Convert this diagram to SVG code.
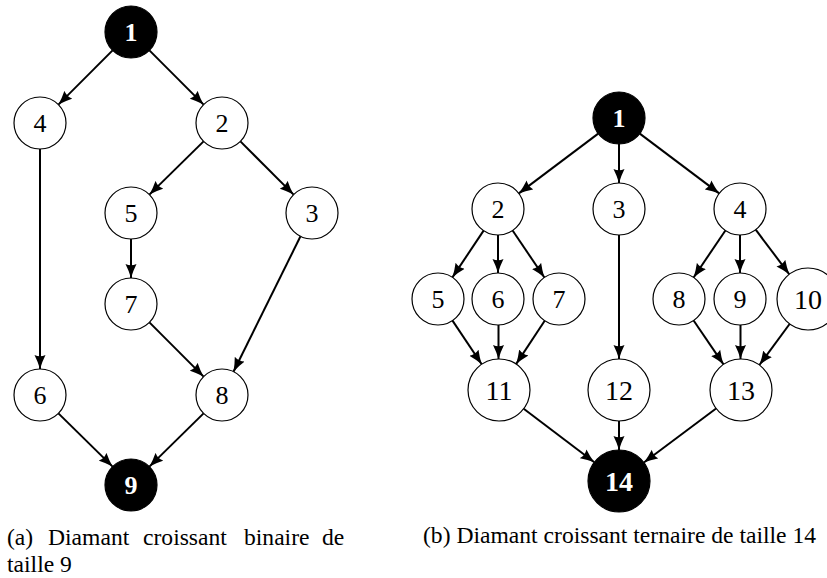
<svg xmlns="http://www.w3.org/2000/svg" width="827" height="578" viewBox="0 0 827 578">
<style>
.n circle{fill:#fff;stroke:#000;stroke-width:1.2}
.n text{font-family:'Liberation Serif','DejaVu Serif',serif;font-size:26px;text-anchor:middle;fill:#000}
.n text.d{font-size:28px}
.b circle{fill:#000;stroke:#000}
.b text{fill:#fff;font-weight:bold}
.e line{stroke:#000;stroke-width:2;marker-end:url(#ah)}
.cap{font-family:'Liberation Serif','DejaVu Serif',serif;font-size:23.6px;fill:#000}
</style>
<defs>
<marker id="ah" markerUnits="userSpaceOnUse" markerWidth="15" markerHeight="12" refX="14" refY="6" orient="auto" viewBox="0 0 15 12">
<path d="M0,0.5 Q7,4 14,6 Q7,8 0,11.5 Q2.5,6 0,0.5 z" fill="#000"/>
</marker>
</defs>
<g id="connectors-a" class="e">
<line x1="112.6" y1="50.4" x2="58.4" y2="104.6"/>
<line x1="149.4" y1="50.4" x2="203.6" y2="104.6"/>
<line x1="203.6" y1="141.4" x2="149.4" y2="194.6"/>
<line x1="240.4" y1="141.4" x2="293.6" y2="194.6"/>
<line x1="131" y1="239" x2="131" y2="278"/>
<line x1="40" y1="149" x2="40" y2="369"/>
<line x1="300.5" y1="236.3" x2="233.5" y2="371.7"/>
<line x1="149.4" y1="322.4" x2="203.6" y2="376.6"/>
<line x1="58.4" y1="413.4" x2="112.6" y2="466.6"/>
<line x1="203.6" y1="413.4" x2="149.4" y2="466.6"/>
</g>
<g id="a1" class="n b"><circle cx="131" cy="32" r="26"/><text x="131" y="41">1</text></g>
<g id="a4" class="n"><circle cx="40" cy="123" r="26"/><text x="40" y="132">4</text></g>
<g id="a2" class="n"><circle cx="222" cy="123" r="26"/><text x="222" y="132">2</text></g>
<g id="a5" class="n"><circle cx="131" cy="213" r="26"/><text x="131" y="222">5</text></g>
<g id="a3" class="n"><circle cx="312" cy="213" r="26"/><text x="312" y="222">3</text></g>
<g id="a7" class="n"><circle cx="131" cy="304" r="26"/><text x="131" y="313">7</text></g>
<g id="a6" class="n"><circle cx="40" cy="395" r="26"/><text x="40" y="404">6</text></g>
<g id="a8" class="n"><circle cx="222" cy="395" r="26"/><text x="222" y="404">8</text></g>
<g id="a9" class="n b"><circle cx="131" cy="485" r="26"/><text x="131" y="494">9</text></g>

<g id="connectors-b" class="e">
<line x1="598.2" y1="133.6" x2="518.8" y2="193.4"/>
<line x1="619" y1="144" x2="619" y2="183"/>
<line x1="639.8" y1="133.6" x2="719.2" y2="193.4"/>
<line x1="483.6" y1="230.6" x2="452.4" y2="277.4"/>
<line x1="498" y1="235" x2="498" y2="273"/>
<line x1="512.6" y1="230.5" x2="544.4" y2="277.5"/>
<line x1="619" y1="235" x2="619" y2="359"/>
<line x1="725.4" y1="230.5" x2="693.6" y2="277.5"/>
<line x1="740" y1="235" x2="740" y2="273"/>
<line x1="755.7" y1="229.7" x2="789.3" y2="274.3"/>
<line x1="452.5" y1="320.6" x2="481.7" y2="364.3"/>
<line x1="498.5" y1="325" x2="498.5" y2="359"/>
<line x1="544.7" y1="320.7" x2="516.1" y2="364.1"/>
<line x1="693.6" y1="320.5" x2="723.5" y2="364.4"/>
<line x1="740.5" y1="325" x2="740.5" y2="359"/>
<line x1="789.6" y1="324" x2="759.4" y2="365"/>
<line x1="523.7" y1="408.7" x2="594.3" y2="462.3"/>
<line x1="619" y1="421" x2="619" y2="450"/>
<line x1="716.1" y1="408.5" x2="643.9" y2="462.5"/>
</g>
<g id="b1" class="n b"><circle cx="619" cy="118" r="26"/><text x="619" y="127">1</text></g>
<g id="b2" class="n"><circle cx="498" cy="209" r="26"/><text x="498" y="218">2</text></g>
<g id="b3" class="n"><circle cx="619" cy="209" r="26"/><text x="619" y="218">3</text></g>
<g id="b4" class="n"><circle cx="740" cy="209" r="26"/><text x="740" y="218">4</text></g>
<g id="b5" class="n"><circle cx="438" cy="299" r="26"/><text x="438" y="308">5</text></g>
<g id="b6" class="n"><circle cx="498" cy="299" r="26"/><text x="498" y="308">6</text></g>
<g id="b7" class="n"><circle cx="559" cy="299" r="26"/><text x="559" y="308">7</text></g>
<g id="b8" class="n"><circle cx="679" cy="299" r="26"/><text x="679" y="308">8</text></g>
<g id="b9" class="n"><circle cx="740" cy="299" r="26"/><text x="740" y="308">9</text></g>
<g id="b10" class="n"><circle cx="808" cy="299" r="31"/><text class="d" x="808" y="309">10</text></g>
<g id="b11" class="n"><circle cx="499" cy="390" r="31"/><text class="d" x="499" y="400">11</text></g>
<g id="b12" class="n"><circle cx="619" cy="390" r="31"/><text class="d" x="619" y="400">12</text></g>
<g id="b13" class="n"><circle cx="741" cy="390" r="31"/><text class="d" x="741" y="400">13</text></g>
<g id="b14" class="n b"><circle cx="619" cy="481" r="31"/><text class="d" x="619" y="491">14</text></g>

<text class="cap" y="545"><tspan x="7">(a)</tspan><tspan x="48">Diamant</tspan><tspan x="143">croissant</tspan><tspan x="244">binaire</tspan><tspan x="322">de</tspan></text>
<text class="cap" x="7" y="572">taille 9</text>
<text class="cap" x="423" y="543">(b) Diamant croissant ternaire de taille 14</text>
</svg>
